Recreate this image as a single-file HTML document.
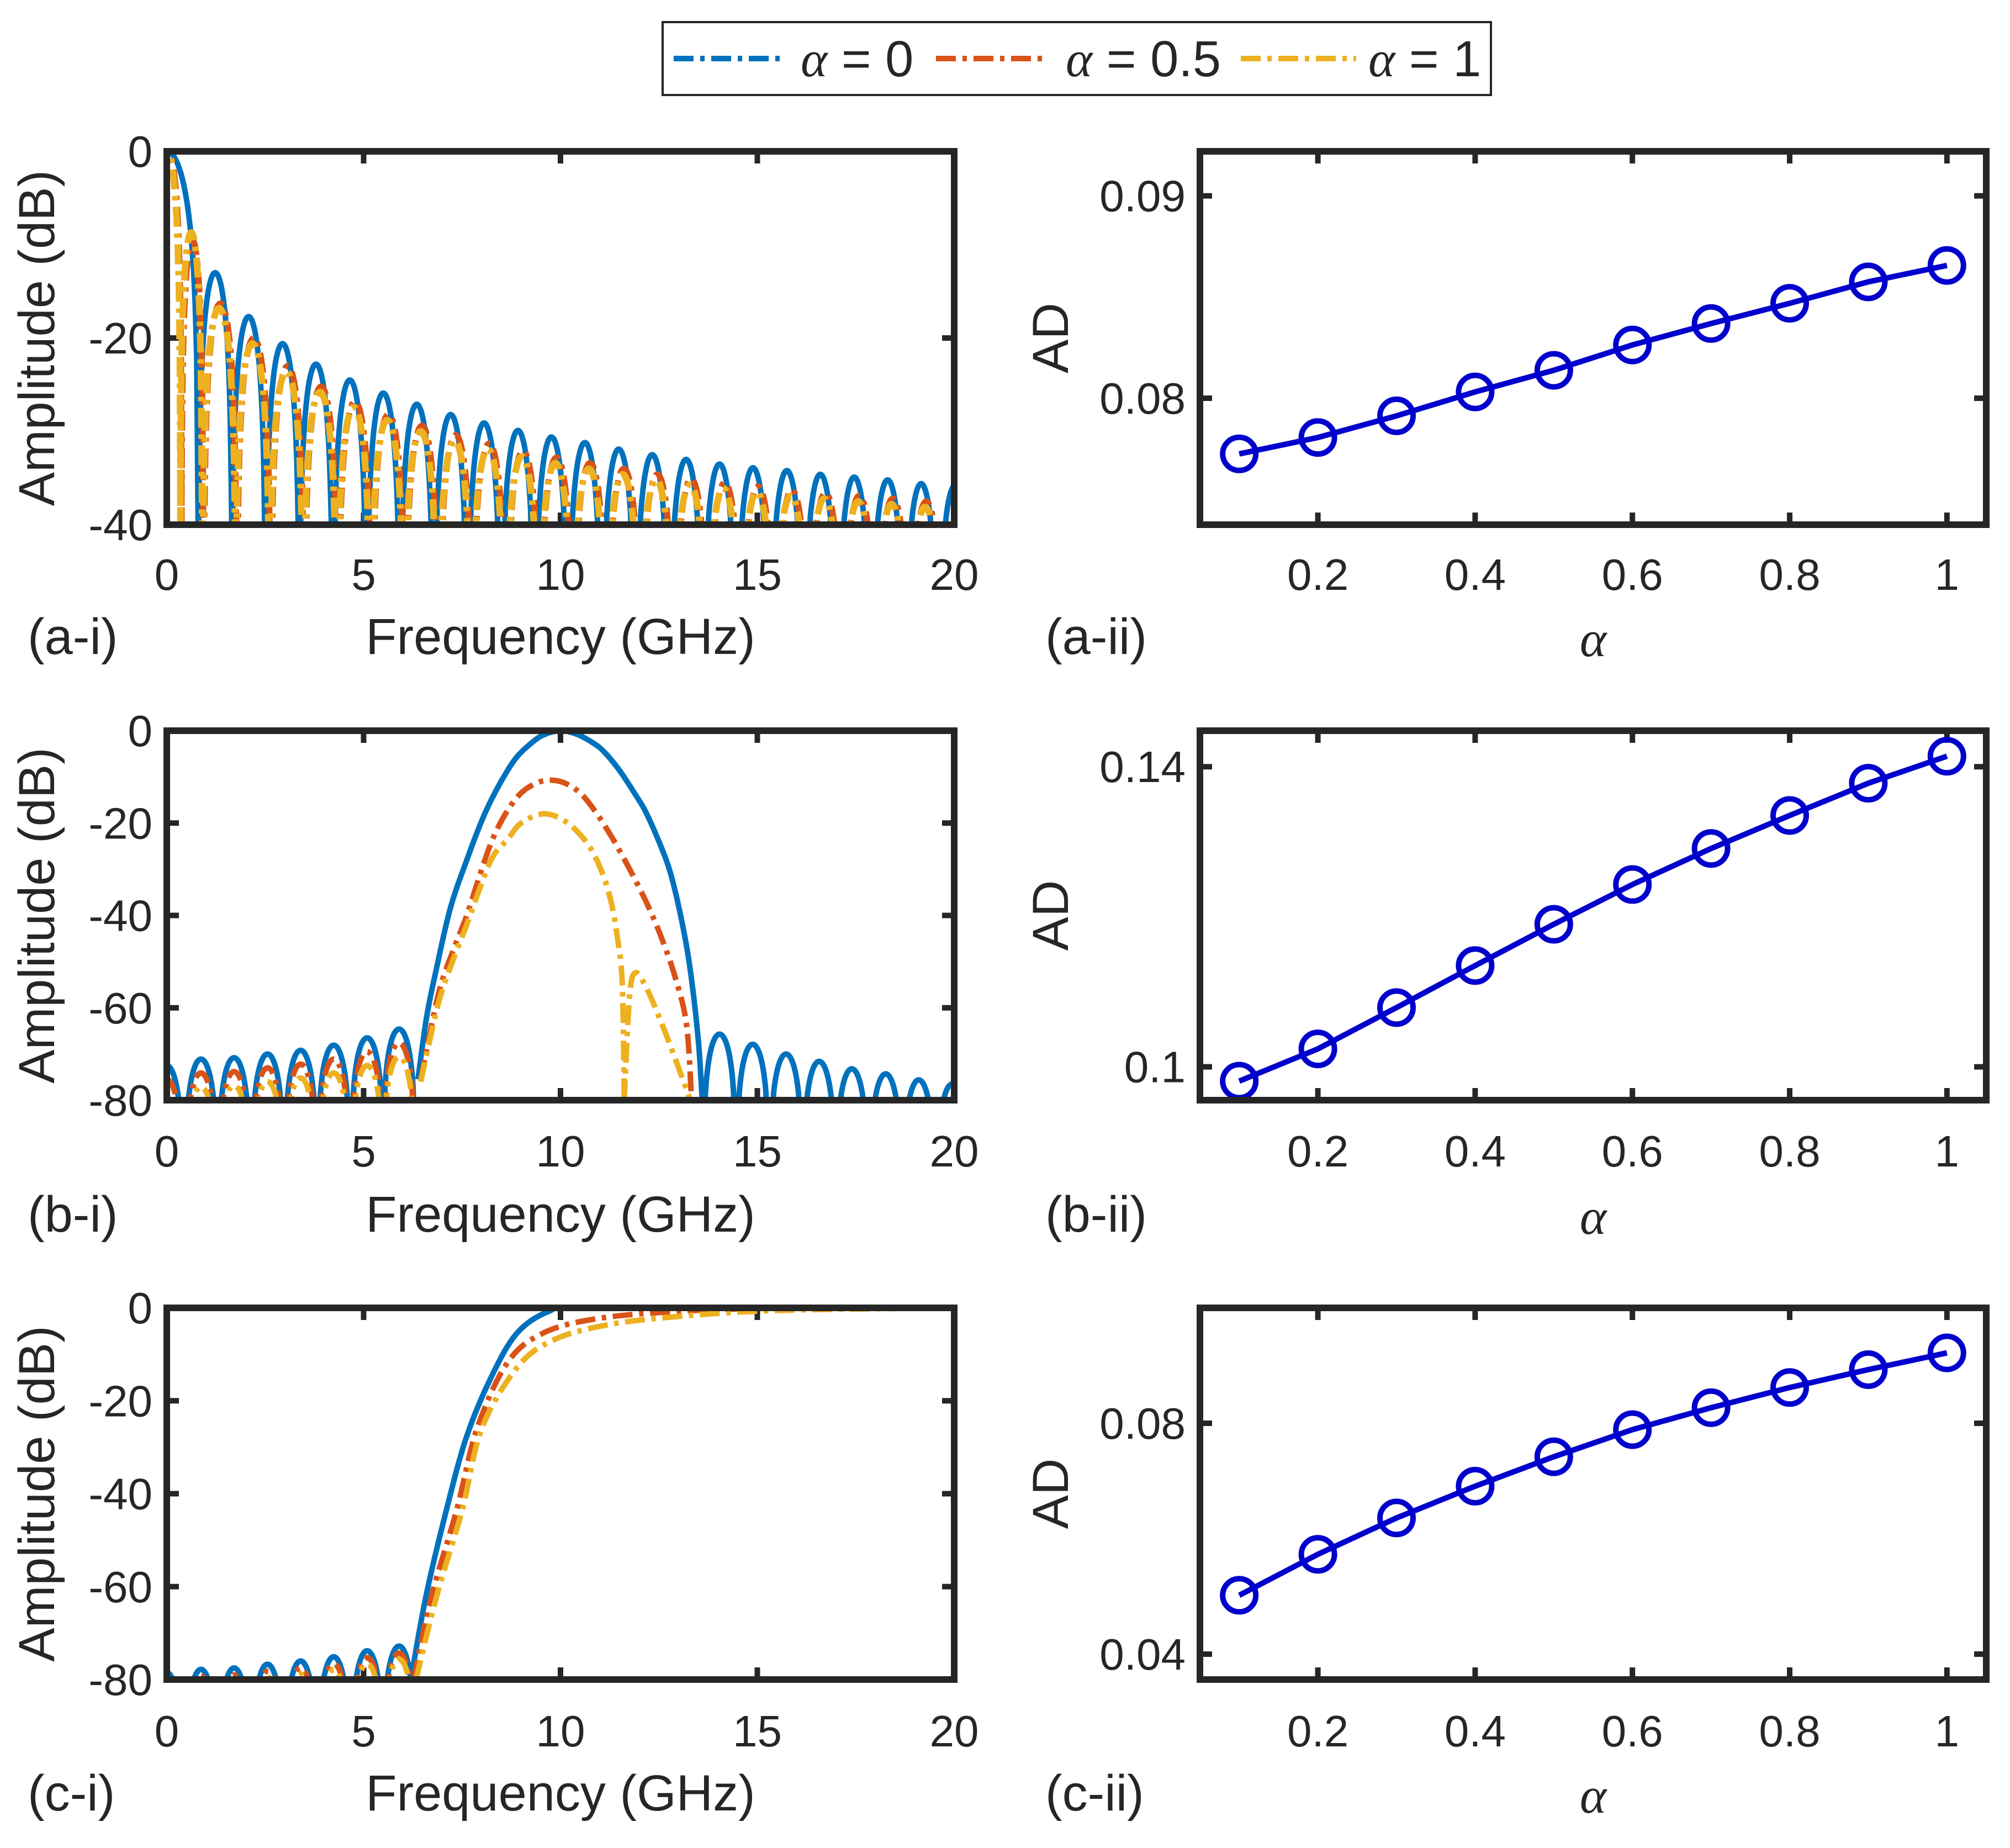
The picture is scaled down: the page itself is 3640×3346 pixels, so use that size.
<!DOCTYPE html>
<html><head><meta charset="utf-8"><style>
html,body{margin:0;padding:0;background:#fff;}
svg{display:block;}
text{font-family:"Liberation Sans",Arial,sans-serif;fill:#262626;}
.tk{font-size:80px;}
.lab{font-size:92px;}
.al{font-family:"Liberation Serif",serif;font-style:italic;}
</style></head><body>
<svg id="fig" xmlns="http://www.w3.org/2000/svg" width="3640" height="3346" viewBox="0 0 3640 3346">
<rect x="0" y="0" width="3640" height="3346" fill="#fff"/>
<g>
<rect x="1200" y="40" width="1500" height="132" fill="#fff" stroke="#262626" stroke-width="4"/>
<g>
<line x1="1220" y1="106" x2="1420" y2="106" stroke="#0072BD" stroke-width="10" stroke-dasharray="36 12 8 12"/>
<text x="1450" y="138" class="lab"><tspan class="al">α</tspan> = 0</text></g>
<g>
<line x1="1695" y1="106" x2="1892" y2="106" stroke="#D95319" stroke-width="10" stroke-dasharray="36 12 8 12"/>
<text x="1930" y="138" class="lab"><tspan class="al">α</tspan> = 0.5</text></g>
<g>
<line x1="2247" y1="106" x2="2456" y2="106" stroke="#EDB120" stroke-width="10" stroke-dasharray="36 12 8 12"/>
<text x="2478" y="138" class="lab"><tspan class="al">α</tspan> = 1</text></g>
</g>
<g id="plots"></g>
</svg>
<script>
// ---------- data: right panels (AD vs alpha) ----------
const alphaVals=[0.1,0.2,0.3,0.4,0.5,0.6,0.7,0.8,0.9,1.0];
const adA=[0.07725,0.07806,0.07913,0.08031,0.08138,0.08263,0.08369,0.08469,0.08575,0.08656];
const adB=[0.0981,0.1024,0.1079,0.1135,0.1190,0.1243,0.1291,0.1335,0.1378,0.1414];
const adC=[0.0502,0.0573,0.0636,0.0691,0.0742,0.0789,0.0827,0.0862,0.0893,0.0922];
const alphaTicks=[0.2,0.4,0.6,0.8,1];
const adTicksA=[0.08,0.09], adTicksB=[0.1,0.14], adTicksC=[0.04,0.08];
const adTickLabA=["0.08","0.09"], adTickLabB=["0.1","0.14"], adTickLabC=["0.04","0.08"];
// ---------- data: left panels (spectra) ----------
const freqTicks=[0,5,10,15,20];
const dbTicksA=[0,-20,-40], dbTicksBC=[0,-20,-40,-60,-80];
// (a-i) lobe centres (GHz) and peak levels (dB)
const aBlueCenters=[0,1.23,2.08,2.94,3.79,4.65,5.50,6.35,7.21,8.06,8.92,9.77,10.62,11.48,12.33,13.19,14.04,14.89,15.75,16.60,17.46,18.31,19.16,20.02];
const aBluePeaks=[0,-13.0,-17.7,-20.6,-22.8,-24.5,-25.9,-27.1,-28.2,-29.1,-29.9,-30.6,-31.2,-31.9,-32.5,-33.0,-33.5,-33.9,-34.2,-34.6,-34.9,-35.2,-35.6,-35.8];
const aBlueHalf=[0.8,0.427,0.427,0.427,0.427,0.427,0.427,0.427,0.427,0.427,0.427,0.427,0.427,0.427,0.427,0.427,0.427,0.427,0.427,0.427,0.427,0.427,0.427,0.427];
const aRedCenters=[0,0.62,1.33,2.18,3.04,3.89,4.75,5.60,6.45,7.31,8.16,9.02,9.87,10.72,11.58,12.43,13.29,14.14,14.99,15.85,16.70,17.56,18.41,19.26,20.12];
const aRedPeaks=[0,-9.5,-16.3,-20.0,-23.0,-25.2,-26.8,-28.2,-29.4,-30.4,-31.3,-32.1,-32.8,-33.4,-34.0,-34.6,-35.1,-35.5,-35.9,-36.3,-36.6,-36.9,-37.2,-37.5,-37.7];
const aYelPeaks=[0,-8.7,-16.8,-20.6,-23.6,-25.8,-27.4,-28.8,-30.0,-31.0,-31.9,-32.7,-33.4,-34.0,-34.6,-35.2,-35.7,-36.1,-36.5,-36.9,-37.2,-37.5,-37.8,-38.1,-38.3];
const aRedHalf=[0.35,0.28,0.42,0.43,0.43,0.43,0.43,0.43,0.43,0.43,0.43,0.43,0.43,0.43,0.43,0.43,0.43,0.43,0.43,0.43,0.43,0.43,0.43,0.43,0.43];
// (b-i)
const bSideCenters=[0,0.87,1.71,2.56,3.40,4.24,5.09,5.90];
const bBlueSide=[-72.5,-71.1,-70.8,-70.0,-69.2,-68.1,-66.5,-64.6];
const bRedSide=[-75.5,-74.1,-73.8,-73.0,-72.2,-71.1,-69.5,-67.6];
const bYelSide=[-78.5,-77.1,-76.8,-76.0,-75.2,-74.1,-72.5,-70.6];
const bRightCenters=[14.04,14.88,15.73,16.57,17.40,18.26,19.10,19.95];
const bBlueRight=[-65.7,-67.9,-70.0,-71.6,-73.2,-74.3,-75.6,-76.5];
const bBlueMainF=[6.38,6.6,6.84,7.2,7.62,8.0,8.27,8.6,8.9,9.3,9.6,10,10.4,10.8,11.1,11.5,11.9,12.16,12.5,12.8,13.1,13.3,13.5,13.6];
const bBlueMainDb=[-75.5,-62,-51.9,-38.5,-28,-19.5,-14.5,-9.4,-5.6,-2.4,-0.8,0,-0.7,-2.5,-4.5,-8.6,-13.8,-17.5,-24,-31,-42,-52,-67,-80];
const bRedMainF=[6.45,6.9,7.3,7.62,8.0,8.3,8.66,9.0,9.35,9.7,10.1,10.5,10.86,11.3,11.77,12.2,12.55,12.9,13.2,13.33];
const bRedMainDb=[-75.5,-57,-47,-40,-30,-23,-17.2,-13.5,-11.5,-10.7,-11.3,-13.5,-17.2,-23,-30.2,-37.5,-44.5,-53,-63.6,-80];
const bYelMainF=[6.45,6.9,7.3,7.62,8.0,8.3,8.66,9.0,9.57,10.1,10.6,10.95,11.25,11.45,11.57,11.62];
const bYelMainDb=[-76,-59,-49,-42,-33,-27,-23.5,-20,-18,-19.5,-23.5,-28.5,-35.8,-45,-55,-80];
const bYelLobeF=[11.62,11.75,11.9,12.2,12.6,13.0,13.3];
const bYelLobeDb=[-80,-58,-52.4,-56,-64,-73,-80];
// (c-i)
const cBlueSide=[-78.5,-77.8,-77.5,-76.7,-76.0,-75.1,-73.8,-72.8];
const cRedSide=[-80,-79.3,-79.0,-78.2,-77.5,-76.6,-75.3,-74.3];
const cYelSide=[-81,-80.5,-80.2,-79.5,-78.8,-77.9,-76.6,-75.6];
const cBlueF=[6.2,6.58,7.1,7.62,8.27,8.9,9.69,10.5,15,20];
const cBlueDb=[-80,-62.2,-43.6,-27.6,-14.4,-5.4,-0.8,0,0,0];
const cRedF=[6.27,6.72,7.36,7.88,8.66,9.57,10.87,12.8,15.4,20];
const cRedDb=[-80,-62.2,-43.6,-26,-11.7,-5.4,-2.4,-0.85,-0.1,0];
const cYelF=[6.33,6.85,7.5,8.0,8.9,9.8,11.1,12.8,15.4,20];
const cYelDb=[-80,-62.2,-43.6,-26,-12.8,-7,-3.8,-2,-0.6,0];

const NS="http://www.w3.org/2000/svg";
const root=document.getElementById('plots');
function mk(tag,attrs,parent){const e=document.createElementNS(NS,tag);for(const k in attrs)e.setAttribute(k,attrs[k]);(parent||root).appendChild(e);return e;}
function lin(d0,d1,r0,r1){return v=>r0+(v-d0)/(d1-d0)*(r1-r0);}
const BLUE="#0072BD",RED="#D95319",YEL="#EDB120",DASH="36 12 8 12";
let clipId=0;

function axesFrame(g,x0,y0,x1,y1,xs,ys,xt,yt,ytl,xtl,xLabY){
  const cid='clip'+(clipId++);
  const cp=mk('clipPath',{id:cid},g);mk('rect',{x:x0,y:y0,width:x1-x0,height:y1-y0},cp);
  for(let i=0;i<xt.length;i++){const x=xs(xt[i]);
    const t1=mk('line',{x1:x,y1:y1,x2:x,y2:y1-22,stroke:'#262626','stroke-width':10},g);
    
    
    mk('line',{x1:x,y1:y0,x2:x,y2:y0+22,stroke:'#262626','stroke-width':10},g);
    const tx=mk('text',{x:x,y:xLabY,'text-anchor':'middle',class:'tk'},g);tx.textContent=xtl[i];
    
    }
  for(let i=0;i<yt.length;i++){const y=ys(yt[i]);
    const t2=mk('line',{x1:x0,y1:y,x2:x0+22,y2:y,stroke:'#262626','stroke-width':10},g);
    
    
    mk('line',{x1:x1,y1:y,x2:x1-22,y2:y,stroke:'#262626','stroke-width':10},g);
    const ty=mk('text',{x:x0-26,y:y+28,'text-anchor':'end',class:'tk'},g);ty.textContent=ytl[i];
    
    }
  return cid;
}
function frameBox(g,x0,y0,x1,y1){const r=mk('rect',{x:x0,y:y0,width:x1-x0,height:y1-y0,fill:'none',stroke:'#262626','stroke-width':12},g);
  
  }
function lobePath(xs,ys,c,h,p,ymin){
  let d='';const N=40;
  for(let i=0;i<=N;i++){const f=c-h+2*h*i/N;let s=Math.sin(Math.PI*i/N);
    let v=p+20*Math.log10(Math.max(s,1e-5));if(v<ymin)v=ymin-2;
    d+=(i?'L':'M')+xs(f).toFixed(1)+','+ys(v).toFixed(1);}
  return d;
}
function smoothPath(xs,ys,F,D){
  const P=F.map((f,i)=>[xs(f),ys(D[i])]);let d='M'+P[0][0]+','+P[0][1];
  for(let i=0;i<P.length-1;i++){const p0=P[Math.max(0,i-1)],p1=P[i],p2=P[i+1],p3=P[Math.min(P.length-1,i+2)];
    const c1=[p1[0]+(p2[0]-p0[0])/6,p1[1]+(p2[1]-p0[1])/6],c2=[p2[0]-(p3[0]-p1[0])/6,p2[1]-(p3[1]-p1[1])/6];
    d+='C'+c1[0].toFixed(1)+','+c1[1].toFixed(1)+' '+c2[0].toFixed(1)+','+c2[1].toFixed(1)+' '+p2[0].toFixed(1)+','+p2[1].toFixed(1);}
  return d;
}
function addPath(g,d,color,dashed,cid,name,w){
  const a={d:d,fill:'none',stroke:color,'stroke-width':w||10,'stroke-linejoin':'round','clip-path':'url(#'+cid+')'};
  if(dashed)a['stroke-dasharray']=DASH;
  const p=mk('path',a,g);
  
  
}
function textAt(g,x,y,str,cls,name,rot,anchor){
  const t=mk('text',{x:x,y:y,'text-anchor':anchor||'middle',class:cls},g);
  if(rot)t.setAttribute('transform','rotate(-90 '+x+' '+y+')');
  t.textContent=str;
  
  
  return t;
}

// ---------- left panels ----------
const L={x0:302,x1:1728};
const rows=[{y0:274,y1:950,tick:1068,xl:1184,tag:'a'},{y0:1323,y1:1992,tick:2112,xl:2230,tag:'b'},{y0:2368,y1:3041,tick:3162,xl:3278,tag:'c'}];

function leftPanel(r,ymin,yt){
  const g=mk('g',{});
  
  
  const xs=lin(0,20,L.x0,L.x1),ys=lin(0,ymin,r.y0,r.y1);
  const cid=axesFrame(g,L.x0,r.y0,L.x1,r.y1,xs,ys,freqTicks,yt,yt.map(String),freqTicks.map(String),r.tick);
  textAt(g,98,(r.y0+r.y1)/2,'Amplitude (dB)','lab','y-axis-title',true);
  textAt(g,1015,r.xl,'Frequency (GHz)','lab','x-axis-title');
  textAt(g,50,r.xl,'('+r.tag+'-i)','lab','panel-label',false,'start');
  return {g,xs,ys,cid};
}
// (a-i)
(function(){const P=leftPanel(rows[0],-40,dbTicksA);let d;
  d='';aBlueCenters.forEach((c,i)=>{d+=lobePath(P.xs,P.ys,c,aBlueHalf[i],aBluePeaks[i],-40);});addPath(P.g,d,BLUE,false,P.cid,'series-alpha-0');
  d='';aRedCenters.forEach((c,i)=>{d+=lobePath(P.xs,P.ys,c+0.03,aRedHalf[i],aRedPeaks[i],-40);});addPath(P.g,d,RED,true,P.cid,'series-alpha-0.5',11);
  d='';aRedCenters.forEach((c,i)=>{d+=lobePath(P.xs,P.ys,c,aRedHalf[i],aYelPeaks[i],-40);});addPath(P.g,d,YEL,true,P.cid,'series-alpha-1',12);
  frameBox(P.g,L.x0,rows[0].y0,L.x1,rows[0].y1);
})();
// (b-i)
(function(){const P=leftPanel(rows[1],-80,dbTicksBC);let d;
  d='';bSideCenters.forEach((c,i)=>{d+=lobePath(P.xs,P.ys,c,0.42,bBlueSide[i],-80);});
  bRightCenters.forEach((c,i)=>{d+=lobePath(P.xs,P.ys,c,0.42,bBlueRight[i],-80);});
  d+=smoothPath(P.xs,P.ys,bBlueMainF,bBlueMainDb);addPath(P.g,d,BLUE,false,P.cid,'series-alpha-0');
  d='';bSideCenters.forEach((c,i)=>{d+=lobePath(P.xs,P.ys,c,0.42,bRedSide[i],-80);});
  d+=smoothPath(P.xs,P.ys,bRedMainF,bRedMainDb);addPath(P.g,d,RED,true,P.cid,'series-alpha-0.5');
  d='';bSideCenters.forEach((c,i)=>{d+=lobePath(P.xs,P.ys,c,0.42,bYelSide[i],-80);});
  d+=smoothPath(P.xs,P.ys,bYelMainF,bYelMainDb)+smoothPath(P.xs,P.ys,bYelLobeF,bYelLobeDb);addPath(P.g,d,YEL,true,P.cid,'series-alpha-1');
  frameBox(P.g,L.x0,rows[1].y0,L.x1,rows[1].y1);
})();
// (c-i)
(function(){const P=leftPanel(rows[2],-80,dbTicksBC);let d;
  d='';bSideCenters.forEach((c,i)=>{d+=lobePath(P.xs,P.ys,c,0.42,cBlueSide[i],-80);});
  d+=smoothPath(P.xs,P.ys,cBlueF,cBlueDb);addPath(P.g,d,BLUE,false,P.cid,'series-alpha-0');
  d='';bSideCenters.forEach((c,i)=>{d+=lobePath(P.xs,P.ys,c,0.42,cRedSide[i],-80);});
  d+=smoothPath(P.xs,P.ys,cRedF,cRedDb);addPath(P.g,d,RED,true,P.cid,'series-alpha-0.5');
  d='';bSideCenters.forEach((c,i)=>{d+=lobePath(P.xs,P.ys,c,0.42,cYelSide[i],-80);});
  d+=smoothPath(P.xs,P.ys,cYelF,cYelDb);addPath(P.g,d,YEL,true,P.cid,'series-alpha-1');
  frameBox(P.g,L.x0,rows[2].y0,L.x1,rows[2].y1);
})();

// ---------- right panels ----------
const R={x0:2173,x1:3597};
function rightPanel(r,ylo,yhi,yt,ytl,vals){
  const g=mk('g',{});
  
  
  const xs=lin(0.05,1.05,R.x0,R.x1),ys=lin(ylo,yhi,r.y1,r.y0);
  const cid=axesFrame(g,R.x0,r.y0,R.x1,r.y1,xs,ys,alphaTicks,yt,ytl,alphaTicks.map(String),r.tick);
  textAt(g,1934,(r.y0+r.y1)/2,'AD','lab','y-axis-title',true);
  textAt(g,2885,r.xl+4,'α','lab al','x-axis-title');
  textAt(g,1893,r.xl,'('+r.tag+'-ii)','lab','panel-label',false,'start');
  let d='';alphaVals.forEach((a,i)=>{d+=(i?'L':'M')+xs(a).toFixed(1)+','+ys(vals[i]).toFixed(1);});
  const ln=mk('path',{d:d,fill:'none',stroke:'#0000CC','stroke-width':10},g);
  
  
  alphaVals.forEach((a,i)=>{const c=mk('circle',{cx:xs(a),cy:ys(vals[i]),r:30,fill:'none',stroke:'#0000CC','stroke-width':10},g);
    
    });
  frameBox(g,R.x0,r.y0,R.x1,r.y1);
}
rightPanel(rows[0],0.07375,0.0922,adTicksA,adTickLabA,adA);
rightPanel(rows[1],0.09556,0.1448,adTicksB,adTickLabB,adB);
rightPanel(rows[2],0.0356,0.1,adTicksC,adTickLabC,adC);
</script>
</body></html>
